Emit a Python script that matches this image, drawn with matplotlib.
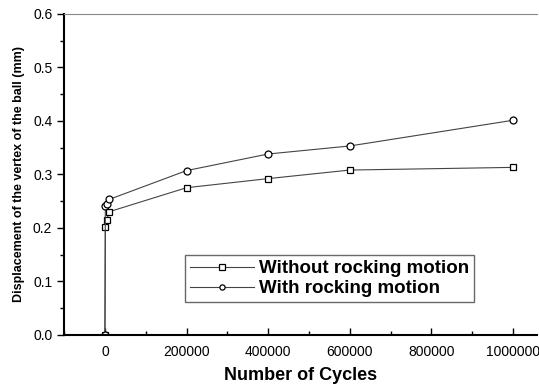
import matplotlib
matplotlib.use('Agg')
import matplotlib.pyplot as plt
from matplotlib.ticker import MultipleLocator

plt.rcParams['font.family'] = ['Liberation Sans', 'DejaVu Sans']

# data
cycles_without = [0, 1000, 5000, 10000, 200000, 400000, 600000, 1000000]
disp_without = [0.0, 0.202, 0.215, 0.230, 0.275, 0.292, 0.308, 0.313]
cycles_with = [0, 1000, 5000, 10000, 200000, 400000, 600000, 1000000]
disp_with = [0.0, 0.240, 0.245, 0.253, 0.307, 0.338, 0.353, 0.401]
xticks = [0, 200000, 400000, 600000, 800000, 1000000]

fig = plt.figure(figsize=(5.39, 3.84), dpi=100)
ax = fig.add_axes([0.119, 0.128, 0.878, 0.836])

ax.plot(cycles_without, disp_without, color='#444444', lw=0.8, marker='s',
        ms=5, mfc='white', mec='black', mew=0.9, label='Without rocking motion')
ax.plot(cycles_with, disp_with, color='#444444', lw=0.8, marker='o',
        ms=5, mfc='white', mec='black', mew=0.9, label='With rocking motion')

ax.set_xlim(-100000, 1060000)
ax.set_ylim(0, 0.6)
ax.set_xticks(xticks)
ax.set_xticklabels([str(v) for v in xticks])
ax.xaxis.set_minor_locator(MultipleLocator(100000))
ax.yaxis.set_major_locator(MultipleLocator(0.1))
ax.yaxis.set_minor_locator(MultipleLocator(0.05))
ax.yaxis.set_major_formatter(matplotlib.ticker.FormatStrFormatter('%.1f'))

ax.tick_params(axis='x', which='major', direction='in', length=5, width=1, labelsize=10, pad=7)
ax.tick_params(axis='x', which='minor', direction='in', length=3, width=1)
ax.tick_params(axis='y', which='major', direction='out', length=5, width=1, labelsize=10)
ax.tick_params(axis='y', which='minor', direction='out', length=3, width=1)

ax.spines['right'].set_visible(False)
ax.spines['top'].set_color('#888888')
ax.spines['left'].set_linewidth(1.5)
ax.spines['bottom'].set_linewidth(1.5)

ax.set_xlabel('Number of Cycles', fontsize=13, fontweight='bold', labelpad=6)
ax.set_ylabel('Displacement of the vertex of the ball (mm)', fontsize=9, fontweight='bold', labelpad=6)

leg = ax.legend(loc='lower left', bbox_to_anchor=(0.256, 0.103), borderaxespad=0,
                prop={'size': 13.5, 'weight': 'bold'}, markerscale=0.75,
                frameon=True, fancybox=False, handlelength=3.4, borderpad=0.25,
                labelspacing=0.15, handletextpad=0.3)
leg.get_frame().set_edgecolor('#444444')
leg.get_frame().set_linewidth(1.0)

plt.savefig('out.png', dpi=100)
